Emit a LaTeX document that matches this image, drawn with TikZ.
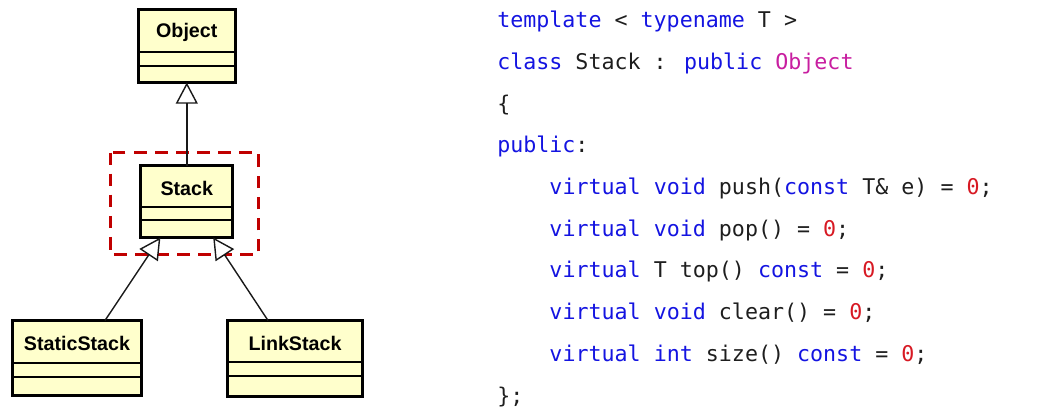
\documentclass[tikz,border=0pt]{standalone}
\usepackage{fontspec}
\usetikzlibrary{arrows.meta, positioning}
\newfontfamily\umlfont{Liberation Sans}
\newfontfamily\codefont{DejaVu Sans Mono}
\definecolor{umlyellow}{RGB}{255,255,204}
\definecolor{hlred}{RGB}{192,0,0}
\definecolor{codeblue}{RGB}{20,20,225}
\definecolor{codepink}{RGB}{200,30,160}
\definecolor{codered}{RGB}{215,25,35}
\definecolor{codetext}{RGB}{30,30,30}
\newcommand{\kw}[1]{\textcolor{codeblue}{#1}}
\newcommand{\ty}[1]{\textcolor{codepink}{#1}}
\newcommand{\zero}{\textcolor{codered}{0}}

\begin{document}
\begin{tikzpicture}[
    classbox/.style={rectangle, draw=black, line width=2.1pt, fill=umlyellow, outer sep=0pt, inner sep=0pt},
    classname/.style={font=\umlfont\fontsize{14}{16}\selectfont\bfseries, inner sep=0pt},
    divider/.style={line width=1pt, black},
    inherit/.style={-{Triangle[length=0.53cm, width=0.55cm, fill=white, line width=1pt]}, line width=1pt, black!90},
    highlight/.style={dashed, dash pattern=on 9pt off 6pt, line width=2.1pt, hlred},
    codeline/.style={anchor=base west, inner sep=0pt, text=codetext, font=\codefont\fontsize{15.4}{18}\selectfont}
]
\useasboundingbox (0,0) rectangle (26.45,-10.45);

% ===== Left Side: Class Diagram =====
\draw[highlight] (2.7625,-3.8125) rectangle (6.4625,-6.3625);

% Object
\node[classbox, minimum width=2.425cm, minimum height=1.825cm] (object) at (4.67,-1.15) {};
\node[classname] (object_name) at ([yshift=-0.58cm]object.north) {Object};
\draw[divider] ([yshift=-1.06cm]object.north west) -- ([yshift=-1.06cm]object.north east);
\draw[divider] ([yshift=-1.41cm]object.north west) -- ([yshift=-1.41cm]object.north east);

% Stack
\node[classbox, minimum width=2.3cm, minimum height=1.8cm] (stack) at (4.67,-5.0375) {};
\node[classname] (stack_name) at ([yshift=-0.58cm]stack.north) {Stack};
\draw[divider] ([yshift=-1.04cm]stack.north west) -- ([yshift=-1.04cm]stack.north east);
\draw[divider] ([yshift=-1.36cm]stack.north west) -- ([yshift=-1.36cm]stack.north east);

% StaticStack
\node[classbox, minimum width=3.225cm, minimum height=1.875cm] (staticstack) at (1.925,-8.95) {};
\node[classname] (staticstack_name) at ([yshift=-0.58cm]staticstack.north) {StaticStack};
\draw[divider] ([yshift=-1.06cm]staticstack.north west) -- ([yshift=-1.06cm]staticstack.north east);
\draw[divider] ([yshift=-1.41cm]staticstack.north west) -- ([yshift=-1.41cm]staticstack.north east);

% LinkStack
\node[classbox, minimum width=3.375cm, minimum height=1.9cm] (linkstack) at (7.375,-8.9625) {};
\node[classname] (linkstack_name) at ([yshift=-0.58cm]linkstack.north) {LinkStack};
\draw[divider] ([yshift=-1.04cm]linkstack.north west) -- ([yshift=-1.04cm]linkstack.north east);
\draw[divider] ([yshift=-1.39cm]linkstack.north west) -- ([yshift=-1.39cm]linkstack.north east);

% Inheritance
\draw[inherit] (stack.north) -- (object.south);
\draw[inherit] ([xshift=0.7cm]staticstack.north) -- ([xshift=0.49cm]stack.south west);
\draw[inherit] ([xshift=-0.675cm]linkstack.north) -- ([xshift=-0.49cm]stack.south east);

% ===== Right Side: Code =====
\node[codeline] (l1) at (12.425,-0.675) {\kw{template} < \kw{typename} T >};
\node[codeline] (l2) at (12.425,-1.725) {\kw{class} Stack : \kw{public} \ty{Object}};
\node[codeline] (l3) at (12.425,-2.775) {\{};
\node[codeline] (l4) at (12.425,-3.8) {\kw{public}:};
\node[codeline] (l5) at (13.73,-4.85) {\kw{virtual} \kw{void} push(\kw{const} T\& e) = \zero;};
\node[codeline] (l6) at (13.73,-5.9) {\kw{virtual} \kw{void} pop() = \zero;};
\node[codeline] (l7) at (13.73,-6.925) {\kw{virtual} T top() \kw{const} = \zero;};
\node[codeline] (l8) at (13.73,-7.975) {\kw{virtual} \kw{void} clear() = \zero;};
\node[codeline] (l9) at (13.73,-9.025) {\kw{virtual} \kw{int} size() \kw{const} = \zero;};
\node[codeline] (l10) at (12.425,-10.075) {\};};

\end{tikzpicture}
\end{document}
